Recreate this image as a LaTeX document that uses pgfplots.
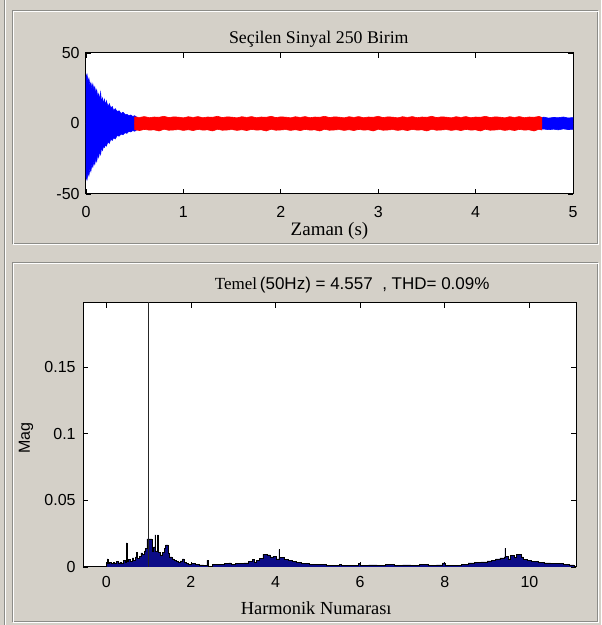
\documentclass[border=0pt]{standalone}
\usepackage{fontspec}
\setmainfont{Liberation Serif}
\setsansfont{Liberation Sans}
\usepackage{pgfplots}
\pgfplotsset{compat=1.18}
\usepackage{pgfplotstable}

\definecolor{winbg}{RGB}{212,208,200}
\definecolor{etch}{RGB}{140,140,136}
\definecolor{specfill}{RGB}{12,12,135}

% decaying start of the signal (envelope)
\pgfplotstableread{
t up lo
0.000 33 -38
0.010 35 -40
0.020 30 -35
0.030 32 -37
0.040 27 -32
0.050 29 -34
0.060 25 -29
0.070 28 -31
0.080 24 -27
0.090 26 -29
0.100 22 -25
0.110 24 -27
0.120 19 -22
0.130 21 -24
0.140 17 -20
0.150 22 -22
0.160 15 -17
0.170 18 -19
0.180 14 -16
0.190 17 -17
0.200 13 -15
0.210 16 -16
0.225 12 -13
0.240 14 -14
0.255 11 -11
0.270 12 -12
0.285 9 -10
0.300 10.5 -11
0.320 8.5 -8.5
0.340 9 -9
0.360 7 -7.5
0.380 8 -8
0.400 6.5 -6.5
0.420 6.5 -7
0.440 5.5 -5.5
0.460 6 -6
0.480 5 -5
0.500 5.5 -5.5
0.520 4.5 -4.5
}\decay

% selected part (red band)
\pgfplotstableread{
t up lo
0.50 4.6 -4.4
0.55 4.3 -5.0
0.60 4.9 -4.2
0.65 4.1 -4.7
0.70 4.6 -4.5
0.75 4.4 -5.3
0.80 5.1 -4.1
0.85 4.2 -4.8
0.90 4.7 -4.6
0.95 4.5 -4.3
1.00 4.0 -4.9
1.05 4.8 -4.4
1.10 4.3 -5.0
1.15 4.9 -4.2
1.20 4.1 -4.7
1.25 4.6 -4.5
1.30 4.4 -5.3
1.35 5.1 -4.1
1.40 4.2 -4.8
1.45 4.7 -4.6
1.50 4.5 -4.3
1.55 4.0 -4.9
1.60 4.8 -4.4
1.65 4.3 -5.0
1.70 4.9 -4.2
1.75 4.1 -4.7
1.80 4.6 -4.5
1.85 4.4 -5.3
1.90 5.1 -4.1
1.95 4.2 -4.8
2.00 4.7 -4.6
2.05 4.5 -4.3
2.10 4.0 -4.9
2.15 4.8 -4.4
2.20 4.3 -5.0
2.25 4.9 -4.2
2.30 4.1 -4.7
2.35 4.6 -4.5
2.40 4.4 -5.3
2.45 5.1 -4.1
2.50 4.2 -4.8
2.55 4.7 -4.6
2.60 4.5 -4.3
2.65 4.0 -4.9
2.70 4.8 -4.4
2.75 4.3 -5.0
2.80 4.9 -4.2
2.85 4.1 -4.7
2.90 4.6 -4.5
2.95 4.4 -5.3
3.00 5.1 -4.1
3.05 4.2 -4.8
3.10 4.7 -4.6
3.15 4.5 -4.3
3.20 4.0 -4.9
3.25 4.8 -4.4
3.30 4.3 -5.0
3.35 4.9 -4.2
3.40 4.1 -4.7
3.45 4.6 -4.5
3.50 4.4 -5.3
3.55 5.1 -4.1
3.60 4.2 -4.8
3.65 4.7 -4.6
3.70 4.5 -4.3
3.75 4.0 -4.9
3.80 4.8 -4.4
3.85 4.3 -5.0
3.90 4.9 -4.2
3.95 4.1 -4.7
4.00 4.6 -4.5
4.05 4.4 -5.3
4.10 5.1 -4.1
4.15 4.2 -4.8
4.20 4.7 -4.6
4.25 4.5 -4.3
4.30 4.0 -4.9
4.35 4.8 -4.4
4.40 4.3 -5.0
4.45 4.9 -4.2
4.50 4.1 -4.7
4.55 4.6 -4.5
4.60 4.4 -5.3
4.65 5.0 -4.1
4.68 4.3 -4.6
}\selected

% tail after the selection
\pgfplotstableread{
t up lo
4.66 4.0 -4.2
4.70 4.5 -3.9
4.75 3.8 -4.4
4.80 4.3 -4.0
4.85 4.1 -4.5
4.90 4.6 -3.8
4.95 3.9 -4.3
5.00 4.2 -4.1
}\tail

% harmonic spectrum (bar heights)
\pgfplotstableread{
h m
0.00 0.0030
0.02 0.0060
0.04 0.0030
0.08 0.0035
0.12 0.0028
0.16 0.0034
0.20 0.0030
0.24 0.0042
0.28 0.0030
0.32 0.0036
0.36 0.0031
0.40 0.0050
0.44 0.0038
0.47 0.0180
0.49 0.0040
0.53 0.0055
0.57 0.0042
0.61 0.0068
0.65 0.0050
0.69 0.0075
0.72 0.0110
0.74 0.0065
0.78 0.0080
0.82 0.0105
0.86 0.0092
0.90 0.0120
0.93 0.0140
0.96 0.0210
1.08 0.0120
1.12 0.0150
1.15 0.0240
1.17 0.0120
1.21 0.0240
1.23 0.0110
1.27 0.0090
1.32 0.0110
1.37 0.0140
1.40 0.0165
1.46 0.0100
1.50 0.0075
1.55 0.0060
1.60 0.0048
1.65 0.0040
1.70 0.0035
1.75 0.0045
1.80 0.0060
1.84 0.0035
1.90 0.0028
1.95 0.0022
2.00 0.0025
2.10 0.0018
2.20 0.0015
2.30 0.0010
2.38 0.0050
2.40 0.0006
2.50 0.0018
2.60 0.0020
2.70 0.0022
2.80 0.0025
2.90 0.0030
2.95 0.0022
3.05 0.0028
3.15 0.0025
3.25 0.0030
3.35 0.0040
3.45 0.0055
3.50 0.0035
3.55 0.0050
3.62 0.0065
3.70 0.0095
3.80 0.0090
3.88 0.0075
3.95 0.0080
4.02 0.0060
4.08 0.0130
4.10 0.0070
4.20 0.0055
4.30 0.0050
4.40 0.0040
4.50 0.0035
4.60 0.0028
4.70 0.0025
4.80 0.0022
4.90 0.0020
5.00 0.0018
5.20 0.0014
5.40 0.0012
5.50 0.0020
5.55 0.0010
5.80 0.0012
5.95 0.0025
6.00 0.0012
6.20 0.0015
6.40 0.0012
6.60 0.0018
6.80 0.0014
7.00 0.0016
7.20 0.0014
7.40 0.0018
7.60 0.0012
7.80 0.0015
7.95 0.0030
8.00 0.0012
8.20 0.0014
8.40 0.0020
8.55 0.0030
8.70 0.0032
8.85 0.0038
9.00 0.0045
9.10 0.0050
9.20 0.0060
9.30 0.0068
9.40 0.0075
9.42 0.0140
9.44 0.0080
9.50 0.0060
9.55 0.0085
9.65 0.0070
9.70 0.0092
9.80 0.0075
9.85 0.0055
9.95 0.0050
10.05 0.0042
10.20 0.0035
10.35 0.0030
10.50 0.0028
10.65 0.0025
10.80 0.0022
10.95 0.0015
11.05 0.0000
}\spectrum

\pgfplotsset{
  matlab/.style={
    scale only axis,
    axis background/.style={fill=white},
    axis line style={black, line width=0.5pt},
    tick align=inside,
    major tick length=2.5pt,
    tick style={black, line width=0.4pt},
    ticklabel style={font=\sffamily\fontsize{8}{9}\selectfont},
    xticklabel style={inner sep=0pt, anchor=north},
    yticklabel style={inner sep=0pt, anchor=east},
  },
}

\begin{document}
\begin{tikzpicture}

% window and panels (1 px = 0.5 pt)
\begin{scope}[x=0.5pt, y=0.5pt, line width=0.5pt]
  \fill[winbg] (0,0) rectangle (601,625);
  \draw[etch] (4,0) -- (4,625);
  \draw[white] (5,0) -- (5,625);
  \draw[etch] (12,614) rectangle (597,381);
  \draw[white] (13,613) rectangle (598,380);
  \draw[etch] (12,362) rectangle (597,3);
  \draw[white] (13,361) rectangle (598,2);
\end{scope}

% top: selected signal
\begin{axis}[
  matlab,
  at={(43pt,215.5pt)}, anchor=south west,
  width=243.5pt, height=70.5pt,
  xmin=0, xmax=5, ymin=-50, ymax=50,
  xtick={0,1,2,3,4,5}, xticklabels={0,1,2,3,4,5},
  ytick={-50,0,50}, yticklabels={-50,0,50},
  xticklabel style={yshift=-6pt},
  yticklabel style={xshift=-3pt},
  title={Seçilen Sinyal 250 Birim},
  title style={at={(axis description cs:0.478,1)}, anchor=center, yshift=1pt,
    inner sep=0pt, font=\rmfamily\fontsize{8.9}{10}\selectfont},
  xlabel={Zaman (s)},
  xlabel style={at={(axis description cs:0.5,0)}, anchor=center, yshift=-18.3pt,
    inner sep=0pt, font=\rmfamily\fontsize{9.5}{11}\selectfont},
]
  % each band is filled from its upper and lower edge down/up to zero
  \addplot[blue, fill=blue, line width=0.3pt] table[x=t, y=up] {\decay} \closedcycle;
  \addplot[blue, fill=blue, line width=0.3pt] table[x=t, y=lo] {\decay} \closedcycle;
  \addplot[blue, fill=blue, line width=0.3pt] table[x=t, y=up] {\tail} \closedcycle;
  \addplot[blue, fill=blue, line width=0.3pt] table[x=t, y=lo] {\tail} \closedcycle;
  \addplot[red, fill=red, line width=0.3pt] table[x=t, y=up] {\selected} \closedcycle;
  \addplot[red, fill=red, line width=0.3pt] table[x=t, y=lo] {\selected} \closedcycle;
\end{axis}

% bottom: harmonic spectrum
\begin{axis}[
  matlab,
  at={(41.5pt,29pt)}, anchor=south west,
  width=246.5pt, height=132pt,
  xmin=-0.55, xmax=11.1, ymin=0, ymax=0.198,
  xtick={0,2,4,6,8,10}, xticklabels={0,2,4,6,8,10},
  ytick={0,0.05,0.1,0.15}, yticklabels={0,0.05,0.1,0.15},
  xticklabel style={yshift=-4.6pt},
  yticklabel style={xshift=-3.5pt},
  title={Temel\,{\sffamily(50Hz) = 4.557 \ , THD= 0.09\%}},
  title style={at={(axis description cs:0.546,1)}, anchor=center, yshift=3.15pt,
    inner sep=0pt, font=\rmfamily\fontsize{8.5}{10}\selectfont},
  xlabel={Harmonik Numarası},
  xlabel style={at={(axis description cs:0.473,0)}, anchor=center, yshift=-20.5pt,
    inner sep=0pt, font=\rmfamily\fontsize{9.2}{11}\selectfont},
  ylabel={Mag},
  ylabel style={at={(axis description cs:0,0.489)}, anchor=center, yshift=28.5pt,
    inner sep=0pt, font=\sffamily\fontsize{8}{9}\selectfont},
]
  \addplot[const plot mark left, draw=black, line width=0.3pt, fill=specfill]
    table[x=h, y=m] {\spectrum} \closedcycle;
  \addplot[ycomb, draw=black!85, line width=0.7pt, mark=none] coordinates {(1,4.557)};
\end{axis}

\pgfresetboundingbox
\path[use as bounding box] (0,0) rectangle (300.5pt,312.5pt);
\end{tikzpicture}
\end{document}
